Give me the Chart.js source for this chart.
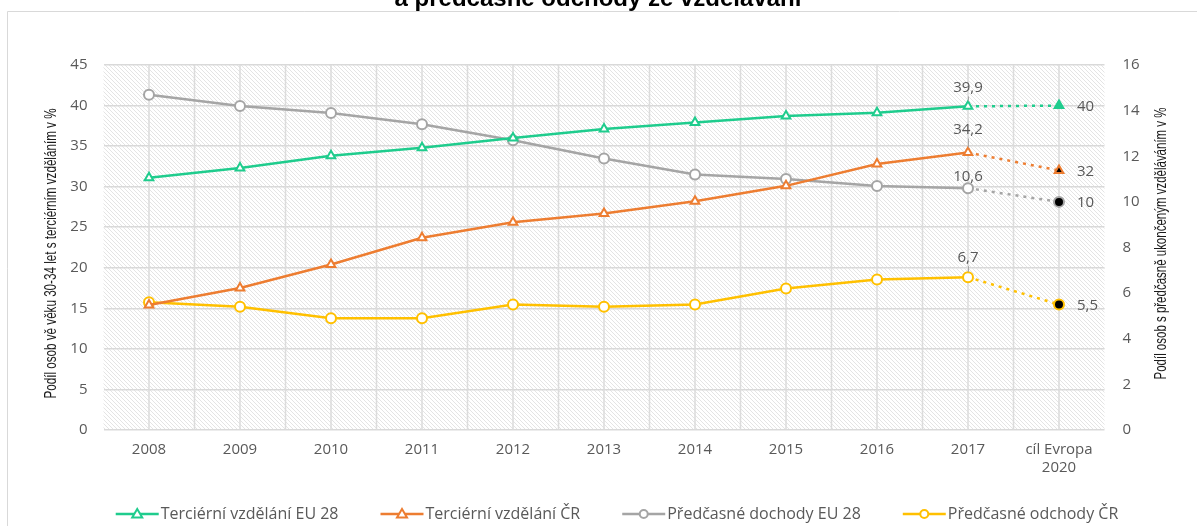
<!DOCTYPE html>
<html>
<head>
<meta charset="utf-8">
<script src="https://cdn.jsdelivr.net/npm/chart.js@4.4.0/dist/chart.umd.min.js"></script>
<style>
  body { margin: 0; background: #fff; }
  #wrap { width: 1197px; height: 526px; }
</style>
</head>
<body>
<div id="wrap"><canvas id="chart" width="1197" height="526"></canvas></div>
<script>
const categories = ['2008', '2009', '2010', '2011', '2012', '2013', '2014', '2015', '2016', '2017', ['cíl Evropa', '2020']];
const tercEU = [31.1, 32.3, 33.8, 34.8, 36.0, 37.1, 37.9, 38.7, 39.1, 39.9, 40];
const tercCR = [15.4, 17.5, 20.4, 23.7, 25.6, 26.7, 28.2, 30.1, 32.8, 34.2, 32];
const predEU = [14.7, 14.2, 13.9, 13.4, 12.7, 11.9, 11.2, 11.0, 10.7, 10.6, 10];
const predCR = [5.6, 5.4, 4.9, 4.9, 5.5, 5.4, 5.5, 6.2, 6.6, 6.7, 5.5];
const seriesNames = ['Terciérní vzdělání EU 28', 'Terciérní vzdělání ČR', 'Předčasné dochody EU 28', 'Předčasné odchody ČR'];
const leftMax = 45, leftStep = 5;
const rightMax = 16, rightStep = 2;

const titleText = 'a předčasné odchody ze vzdělávání';
const leftTitle = 'Podíl osob vě věku 30-34 let s terciérním vzděláním v %';
const rightTitle = 'Podíl osob s předčasně ukončeným vzděláváním v %';

const colors = ['#1fcc8d', '#ed7d31', '#a5a5a5', '#ffc000'];
const textGray = '#595959';
const lastIdx = categories.length - 1;

// hatch pattern for the plot area
const tile = document.createElement('canvas');
tile.width = 4; tile.height = 4;
const tctx = tile.getContext('2d');
tctx.fillStyle = '#ffffff';
tctx.fillRect(0, 0, 4, 4);
tctx.strokeStyle = '#e4e4e4';
tctx.lineWidth = 1;
tctx.beginPath();
tctx.moveTo(-1, -1); tctx.lineTo(5, 5);
tctx.moveTo(-1, 3); tctx.lineTo(1, 5);
tctx.moveTo(3, -1); tctx.lineTo(5, 1);
tctx.stroke();

function fmt(v) {
  return String(v).replace('.', ',');
}

function makeSet(label, data, color, style, axis, targetFill) {
  return {
    label: label,
    data: data,
    yAxisID: axis,
    borderColor: color,
    borderWidth: 2.5,
    pointStyle: style,
    pointRadius: 5,
    pointBorderWidth: 2,
    pointBackgroundColor: data.map((v, i) => i === lastIdx ? targetFill : '#ffffff'),
    pointBorderColor: color,
    tension: 0,
    segment: {
      borderDash: ctx => ctx.p1DataIndex === lastIdx ? [3, 5] : undefined
    }
  };
}

// distance of the 2017 label above its point, and whether a leader line is drawn
const labelOffsets = [13, 17, 6, 14];
const labelLeaders = [true, true, false, true];

const drawPlugin = {
  id: 'drawExtras',
  beforeDraw(chart) {
    const ctx = chart.ctx, a = chart.chartArea;
    ctx.save();
    ctx.fillStyle = '#ffffff';
    ctx.fillRect(0, 0, chart.width, chart.height);
    ctx.strokeStyle = '#d9d9d9';
    ctx.lineWidth = 1;
    ctx.beginPath();
    ctx.moveTo(7.5, chart.height);
    ctx.lineTo(7.5, 11.5);
    ctx.lineTo(chart.width, 11.5);
    ctx.stroke();
    ctx.fillStyle = '#000';
    ctx.font = 'bold 24px "Liberation Sans", Arial, sans-serif';
    ctx.textAlign = 'center';
    ctx.textBaseline = 'alphabetic';
    ctx.fillText(titleText, 598, 6);
    ctx.fillStyle = ctx.createPattern(tile, 'repeat');
    ctx.fillRect(a.left, a.top, a.right - a.left, a.bottom - a.top);
    ctx.restore();
  },
  beforeDatasetsDraw(chart) {
    const ctx = chart.ctx, a = chart.chartArea, xs = chart.scales.x;
    ctx.save();
    ctx.strokeStyle = '#dcdcdc';
    ctx.lineWidth = 1.5;
    ctx.beginPath();
    for (let i = 0; i < categories.length; i++) {
      const x = xs.getPixelForValue(i);
      ctx.moveTo(x, a.top); ctx.lineTo(x, a.bottom);
      if (i > 0) {
        const m = (x + xs.getPixelForValue(i - 1)) / 2;
        ctx.moveTo(m, a.top); ctx.lineTo(m, a.bottom);
      }
    }
    ctx.stroke();
    ctx.restore();
  },
  afterDraw(chart) {
    const ctx = chart.ctx, a = chart.chartArea;
    ctx.save();
    ctx.font = '15px "Open Sans", sans-serif';
    chart.data.datasets.forEach((ds, di) => {
      const meta = chart.getDatasetMeta(di);
      const p = meta.data[lastIdx - 1];
      const off = labelOffsets[di];
      ctx.fillStyle = textGray;
      ctx.textAlign = 'center';
      ctx.textBaseline = 'bottom';
      ctx.fillText(fmt(ds.data[lastIdx - 1]), p.x, p.y - off + 2);
      if (labelLeaders[di]) {
        ctx.strokeStyle = '#a6a6a6';
        ctx.lineWidth = 1;
        ctx.beginPath();
        ctx.moveTo(p.x + 0.5, p.y - off + 3);
        ctx.lineTo(p.x + 0.5, p.y - 5);
        ctx.stroke();
      }
      const t = meta.data[lastIdx];
      ctx.textAlign = 'left';
      ctx.textBaseline = 'middle';
      ctx.fillText(fmt(ds.data[lastIdx]), t.x + 18, t.y + 1);
    });

    // axis titles, both reading bottom to top
    ctx.fillStyle = '#1a1a1a';
    ctx.font = '16px "Liberation Sans", Arial, sans-serif';
    ctx.textAlign = 'center';
    ctx.textBaseline = 'middle';
    [[leftTitle, 52, (a.top + a.bottom) / 2 + 6, 290], [rightTitle, 1162, (a.top + a.bottom) / 2 - 4, 272]].forEach(([txt, x, y, len]) => {
      const w = ctx.measureText(txt).width;
      ctx.save();
      ctx.translate(x, y);
      ctx.rotate(-Math.PI / 2);
      ctx.scale(len / w, 1);
      ctx.fillText(txt, 0, 0);
      ctx.restore();
    });

    // legend: line with marker, then text
    ctx.font = '16px "Open Sans", sans-serif';
    const lineW = 43, gapText = 2, gapItem = 42;
    const widths = seriesNames.map(n => lineW + gapText + ctx.measureText(n).width);
    const total = widths.reduce((s, w) => s + w, 0) + gapItem * (widths.length - 1);
    let x = 617 - total / 2;
    const y = 514;
    chart.data.datasets.forEach((ds, di) => {
      const cx = x + lineW / 2;
      ctx.strokeStyle = ds.borderColor;
      ctx.lineWidth = 2.5;
      ctx.beginPath();
      ctx.moveTo(x, y); ctx.lineTo(x + lineW, y);
      ctx.stroke();
      ctx.fillStyle = '#ffffff';
      ctx.lineWidth = 2;
      ctx.beginPath();
      if (ds.pointStyle === 'circle') {
        ctx.arc(cx, y, 4, 0, Math.PI * 2);
      } else {
        ctx.moveTo(cx, y - 5);
        ctx.lineTo(cx + 5, y + 3.5);
        ctx.lineTo(cx - 5, y + 3.5);
        ctx.closePath();
      }
      ctx.fill();
      ctx.stroke();
      ctx.fillStyle = textGray;
      ctx.textAlign = 'left';
      ctx.textBaseline = 'middle';
      ctx.fillText(seriesNames[di], x + lineW + gapText, y);
      x += widths[di] + gapItem;
    });
    ctx.restore();
  }
};

const tickFont = { family: '"Open Sans", sans-serif', size: 15 };

new Chart(document.getElementById('chart'), {
  type: 'line',
  data: {
    labels: categories,
    datasets: [
      makeSet(seriesNames[0], tercEU, colors[0], 'triangle', 'y', colors[0]),
      makeSet(seriesNames[1], tercCR, colors[1], 'triangle', 'y', '#000000'),
      makeSet(seriesNames[2], predEU, colors[2], 'circle', 'y1', '#000000'),
      makeSet(seriesNames[3], predCR, colors[3], 'circle', 'y1', '#000000')
    ]
  },
  options: {
    responsive: false,
    animation: false,
    layout: { padding: { top: 65, left: 0, right: 0, bottom: 0 } },
    plugins: {
      legend: { display: false },
      title: { display: false },
      tooltip: { enabled: false }
    },
    scales: {
      x: {
        offset: true,
        grid: { display: false },
        border: { display: false },
        ticks: { color: textGray, font: tickFont, padding: 3, maxRotation: 0, autoSkip: false },
        afterFit: s => { s.height = 96; }
      },
      y: {
        position: 'left',
        min: 0, max: leftMax,
        ticks: { stepSize: leftStep, color: textGray, font: tickFont, padding: 16 },
        grid: { color: '#d9d9d9', lineWidth: 1.5, drawTicks: false },
        border: { display: false },
        afterFit: s => { s.width = 103.5; }
      },
      y1: {
        position: 'right',
        min: 0, max: rightMax,
        ticks: { stepSize: rightStep, color: textGray, font: tickFont, padding: 18 },
        grid: { display: false, drawTicks: false },
        border: { display: false },
        afterFit: s => { s.width = 92.5; }
      }
    }
  },
  plugins: [drawPlugin]
});
</script>
</body>
</html>
